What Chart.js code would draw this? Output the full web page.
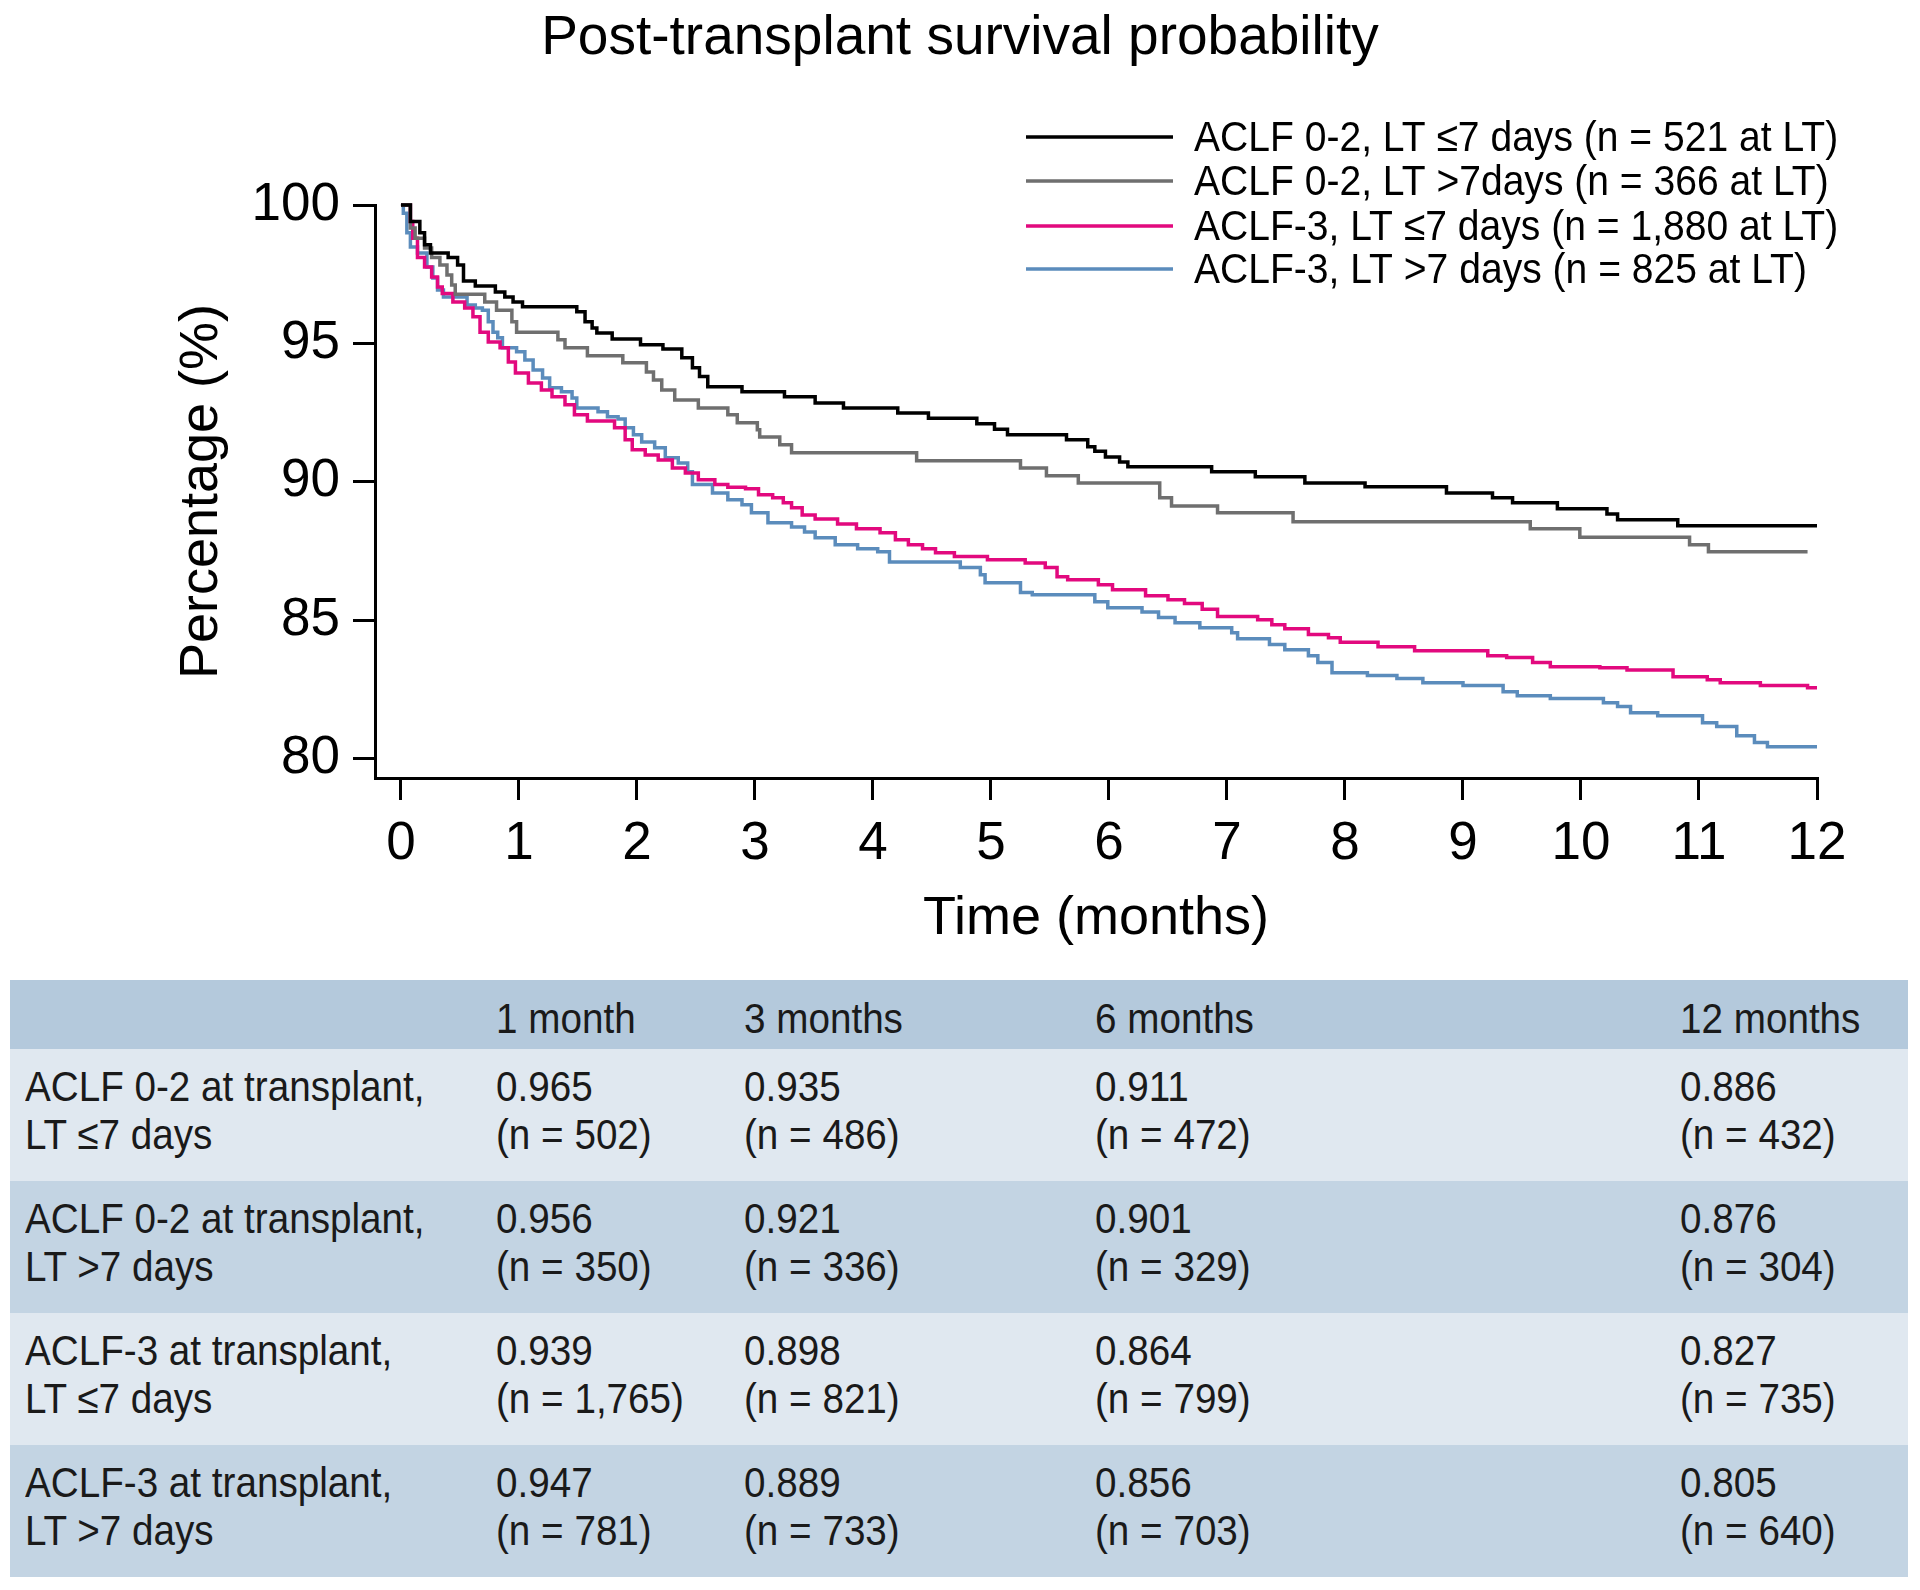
<!DOCTYPE html>
<html>
<head>
<meta charset="utf-8">
<script src="https://cdn.jsdelivr.net/npm/chart.js@4.4.1/dist/chart.umd.min.js"></script>
<style>
  body { margin: 0; background: #fff; font-family: "Liberation Sans", Arial, sans-serif; }
  #page { position: relative; width: 1920px; height: 1590px; }
  #title { position: absolute; left: 0; top: 8px; width: 1920px; text-align: center;
           font-size: 55px; line-height: 54px; color: #000; }
  #chartBox { position: absolute; left: 0; top: 0; width: 1920px; height: 960px; }
  #survTable { position: absolute; left: 10px; top: 980px; width: 1898px;
               border-collapse: collapse; table-layout: fixed; color: #1a1a1a; font-size: 42px; }
  #survTable td { padding: 0; vertical-align: middle; white-space: nowrap; line-height: 48px; }
  #survTable td > div { transform: scaleX(0.92); transform-origin: left center; }
  #survTable tr.head { background: #b4c9dc; height: 69px; }
  #survTable tr.head td { padding-top: 8px; }
  #survTable tr.light { background: #e0e8f0; height: 132px; }
  #survTable tr.dark { background: #c3d4e3; height: 132px; }
  #survTable tr.light td, #survTable tr.dark td { padding-bottom: 8px; }
  #survTable td.lab { padding-left: 15px; }
</style>
</head>
<body>
<div id="page">
  <div id="chartBox"><canvas id="kmChart"></canvas></div>
  <div id="title">Post-transplant survival probability</div>
  <table id="survTable"></table>
</div>
<script>
// Kaplan-Meier curves: [months, survival %]
const aclf02Early = [[0,100],[0.08,99.4],[0.16,99.0],[0.20,98.56],[0.25,98.27],[0.40,98.1],[0.48,97.83],
  [0.53,97.25],[0.63,97.07],[0.80,96.86],[0.88,96.68],[0.95,96.5],[1.03,96.32],[1.49,96.14],[1.56,95.78],
  [1.62,95.56],[1.66,95.38],[1.79,95.16],[2.03,94.95],[2.22,94.8],[2.38,94.48],[2.47,94.12],[2.53,93.8],
  [2.60,93.43],[2.89,93.25],[3.25,93.07],[3.51,92.85],[3.75,92.67],[4.21,92.49],[4.47,92.3],[4.88,92.1],
  [5.03,91.9],[5.14,91.7],[5.64,91.52],[5.82,91.27],[5.88,91.1],[5.97,90.9],[6.09,90.72],[6.16,90.54],
  [6.87,90.36],[7.24,90.18],[7.66,89.96],[8.17,89.82],[8.86,89.6],[9.25,89.42],[9.42,89.24],[9.80,89.03],
  [10.22,88.84],[10.31,88.63],[10.82,88.41],[12,88.41]];

const aclf02Late = [[0,100],[0.08,99.17],[0.12,98.8],[0.20,98.45],[0.26,98.1],[0.33,97.83],[0.39,97.47],
  [0.43,97.11],[0.46,96.78],[0.71,96.5],[0.81,96.2],[0.94,95.78],[0.98,95.4],[1.33,95.13],[1.39,94.84],
  [1.58,94.55],[1.88,94.3],[2.08,93.97],[2.14,93.68],[2.21,93.32],[2.32,92.96],[2.52,92.67],[2.77,92.42],
  [2.85,92.13],[3.02,91.88],[3.04,91.62],[3.21,91.34],[3.31,91.05],[4.37,90.76],[5.25,90.5],[5.47,90.22],
  [5.74,89.96],[6.43,89.42],[6.53,89.13],[6.92,88.88],[7.56,88.56],[9.57,88.3],[9.99,88.0],[10.92,87.73],
  [11.08,87.47],[11.92,87.47]];

const aclf3Early = [[0,100],[0.08,99.4],[0.10,98.8],[0.14,98.1],[0.20,97.76],[0.26,97.4],[0.31,97.04],
  [0.35,96.8],[0.44,96.5],[0.54,96.28],[0.61,95.96],[0.67,95.4],[0.74,95.05],[0.84,94.84],[0.91,94.33],
  [0.97,93.93],[1.08,93.57],[1.19,93.32],[1.28,93.07],[1.39,92.78],[1.47,92.42],[1.58,92.2],[1.81,91.95],
  [1.90,91.52],[1.96,91.16],[2.07,90.97],[2.18,90.79],[2.30,90.5],[2.41,90.32],[2.52,90.07],[2.66,89.9],
  [2.77,89.8],[2.92,89.75],[3.03,89.53],[3.15,89.42],[3.24,89.24],[3.31,89.06],[3.40,88.8],[3.51,88.66],
  [3.70,88.48],[3.86,88.3],[4.06,88.16],[4.19,87.91],[4.30,87.73],[4.42,87.58],[4.53,87.44],[4.69,87.3],
  [4.97,87.18],[5.29,87.07],[5.46,86.9],[5.56,86.57],[5.65,86.46],[5.91,86.28],[6.03,86.1],[6.31,85.88],
  [6.50,85.74],[6.64,85.6],[6.79,85.4],[6.92,85.13],[7.26,85.02],[7.38,84.84],[7.49,84.69],[7.69,84.48],
  [7.86,84.37],[7.96,84.2],[8.28,84.04],[8.59,83.9],[9.21,83.72],[9.37,83.65],[9.59,83.47],[9.74,83.32],
  [10.16,83.28],[10.39,83.2],[10.78,82.96],[11.07,82.85],[11.18,82.74],[11.52,82.64],[11.92,82.56],[12,82.56]];

const aclf3Late = [[0,100],[0.02,99.7],[0.05,99.0],[0.08,98.48],[0.14,98.27],[0.22,97.76],[0.27,97.36],
  [0.31,96.93],[0.36,96.68],[0.56,96.39],[0.63,96.28],[0.69,96.2],[0.74,95.78],[0.78,95.4],[0.82,95.2],
  [0.86,94.84],[0.98,94.7],[1.05,94.4],[1.12,94.04],[1.20,93.75],[1.26,93.4],[1.36,93.25],[1.45,93.03],
  [1.49,92.67],[1.67,92.53],[1.75,92.35],[1.84,92.27],[1.90,91.95],[1.97,91.7],[2.04,91.44],[2.15,91.23],
  [2.24,90.87],[2.35,90.68],[2.43,90.36],[2.47,89.9],[2.64,89.6],[2.77,89.35],[2.89,89.17],[2.97,88.88],
  [3.11,88.52],[3.31,88.37],[3.42,88.19],[3.51,87.98],[3.68,87.73],[3.87,87.58],[4.04,87.47],[4.14,87.1],
  [4.74,86.9],[4.91,86.64],[4.95,86.35],[5.25,86.0],[5.35,85.92],[5.88,85.67],[5.99,85.45],[6.28,85.3],
  [6.42,85.1],[6.56,84.91],[6.77,84.73],[7.04,84.55],[7.09,84.33],[7.36,84.12],[7.49,83.93],[7.69,83.72],
  [7.77,83.47],[7.89,83.1],[8.19,83.0],[8.44,82.89],[8.66,82.74],[9.0,82.64],[9.34,82.42],[9.46,82.27],
  [9.74,82.17],[10.19,82.02],[10.31,81.88],[10.42,81.66],[10.65,81.55],[11.03,81.3],[11.15,81.16],
  [11.32,80.83],[11.47,80.58],[11.58,80.43],[12,80.43]];

const seriesLabels = [
  "ACLF 0-2, LT \u22647 days (n = 521 at LT)",
  "ACLF 0-2, LT >7days (n = 366 at LT)",
  "ACLF-3, LT \u22647 days (n = 1,880 at LT)",
  "ACLF-3, LT >7 days (n = 825 at LT)"
];
const seriesColors = ["#000000", "#6f6f6f", "#e2097e", "#5b8cbc"];
const xTicks = [0, 1, 2, 3, 4, 5, 6, 7, 8, 9, 10, 11, 12];
const yTicks = [80, 85, 90, 95, 100];

// table below the plot
const tableHeaders = ["", "1 month", "3 months", "6 months", "12 months"];
const rowLabels = [
  ["ACLF 0-2 at transplant,", "LT \u22647 days"],
  ["ACLF 0-2 at transplant,", "LT >7 days"],
  ["ACLF-3 at transplant,", "LT \u22647 days"],
  ["ACLF-3 at transplant,", "LT >7 days"]
];
const survAt = [
  ["0.965", "0.935", "0.911", "0.886"],
  ["0.956", "0.921", "0.901", "0.876"],
  ["0.939", "0.898", "0.864", "0.827"],
  ["0.947", "0.889", "0.856", "0.805"]
];
const nAt = [
  ["502", "486", "472", "432"],
  ["350", "336", "329", "304"],
  ["1,765", "821", "799", "735"],
  ["781", "733", "703", "640"]
];

// ---- table ----
const colWidths = [486, 248, 351, 585, 228];
const table = document.getElementById("survTable");
const cg = document.createElement("colgroup");
colWidths.forEach(w => { const c = document.createElement("col"); c.style.width = w + "px"; cg.appendChild(c); });
table.appendChild(cg);
const head = table.insertRow();
head.className = "head";
tableHeaders.forEach((h, i) => {
  const td = head.insertCell();
  if (i === 0) td.className = "lab";
  td.innerHTML = "<div>" + h + "</div>";
});
rowLabels.forEach((lab, r) => {
  const tr = table.insertRow();
  tr.className = r % 2 === 0 ? "light" : "dark";
  const td0 = tr.insertCell();
  td0.className = "lab";
  td0.innerHTML = "<div>" + lab[0] + "<br>" + lab[1] + "</div>";
  survAt[r].forEach((s, c) => {
    const td = tr.insertCell();
    td.innerHTML = "<div>" + s + "<br>(n = " + nAt[r][c] + ")</div>";
  });
});

// ---- legend drawn in the top right corner ----
const legendRows = [137, 181, 226, 269];
const kmLegend = {
  id: "kmLegend",
  afterDraw(chart) {
    const ctx = chart.ctx;
    ctx.save();
    ctx.font = "42px 'Liberation Sans', Arial, sans-serif";
    ctx.textBaseline = "middle";
    chart.data.datasets.forEach((ds, i) => {
      const y = legendRows[i];
      ctx.fillStyle = ds.borderColor;
      ctx.fillRect(1026, y - 1.75, 147, 3.5);
      ctx.save();
      ctx.translate(1194, y + 2);
      ctx.scale(0.93, 1);
      ctx.fillStyle = "#000";
      ctx.fillText(ds.label, 0, 0);
      ctx.restore();
    });
    ctx.restore();
  }
};

const axisFont = { family: "'Liberation Sans', Arial, sans-serif", size: 53 };
const titleFont = { family: "'Liberation Sans', Arial, sans-serif", size: 54 };
const curves = [aclf02Early, aclf02Late, aclf3Early, aclf3Late];

new Chart(document.getElementById("kmChart"), {
  type: "line",
  data: {
    datasets: curves.map((pts, i) => ({
      label: seriesLabels[i],
      data: pts.map(p => ({ x: p[0], y: p[1] })),
      borderColor: seriesColors[i],
      backgroundColor: seriesColors[i],
      borderWidth: 3.5,
      pointRadius: 0,
      stepped: true,
      fill: false,
      clip: 4
    }))
  },
  options: {
    responsive: true,
    maintainAspectRatio: false,
    animation: false,
    layout: { padding: { left: 0, top: 205, right: 103, bottom: 2 } },
    plugins: { legend: { display: false }, tooltip: { enabled: false }, title: { display: false } },
    scales: {
      x: {
        type: "linear",
        min: -0.22,
        max: 12,
        afterBuildTicks: s => { s.ticks = xTicks.map(v => ({ value: v })); },
        afterFit: s => { s.height = 180; },
        ticks: { color: "#000", font: axisFont, padding: 13, maxRotation: 0 },
        grid: { drawOnChartArea: false, drawTicks: true, tickLength: 22, lineWidth: 3, color: "#000" },
        border: { display: true, width: 3, color: "#000" },
        title: { display: true, text: "Time (months)", color: "#000", font: titleFont, padding: { top: 0, bottom: 6 } }
      },
      y: {
        min: 79.3,
        max: 100,
        afterBuildTicks: s => { s.ticks = yTicks.map(v => ({ value: v })); },
        afterFit: s => { s.width = 375; },
        ticks: { color: "#000", font: axisFont, padding: 13 },
        grid: { drawOnChartArea: false, drawTicks: true, tickLength: 22, lineWidth: 3, color: "#000" },
        border: { display: true, width: 3, color: "#000" },
        title: { display: true, text: "Percentage (%)", color: "#000", font: titleFont, padding: { top: 170, bottom: 0 } }
      }
    }
  },
  plugins: [kmLegend]
});
</script>
</body>
</html>
